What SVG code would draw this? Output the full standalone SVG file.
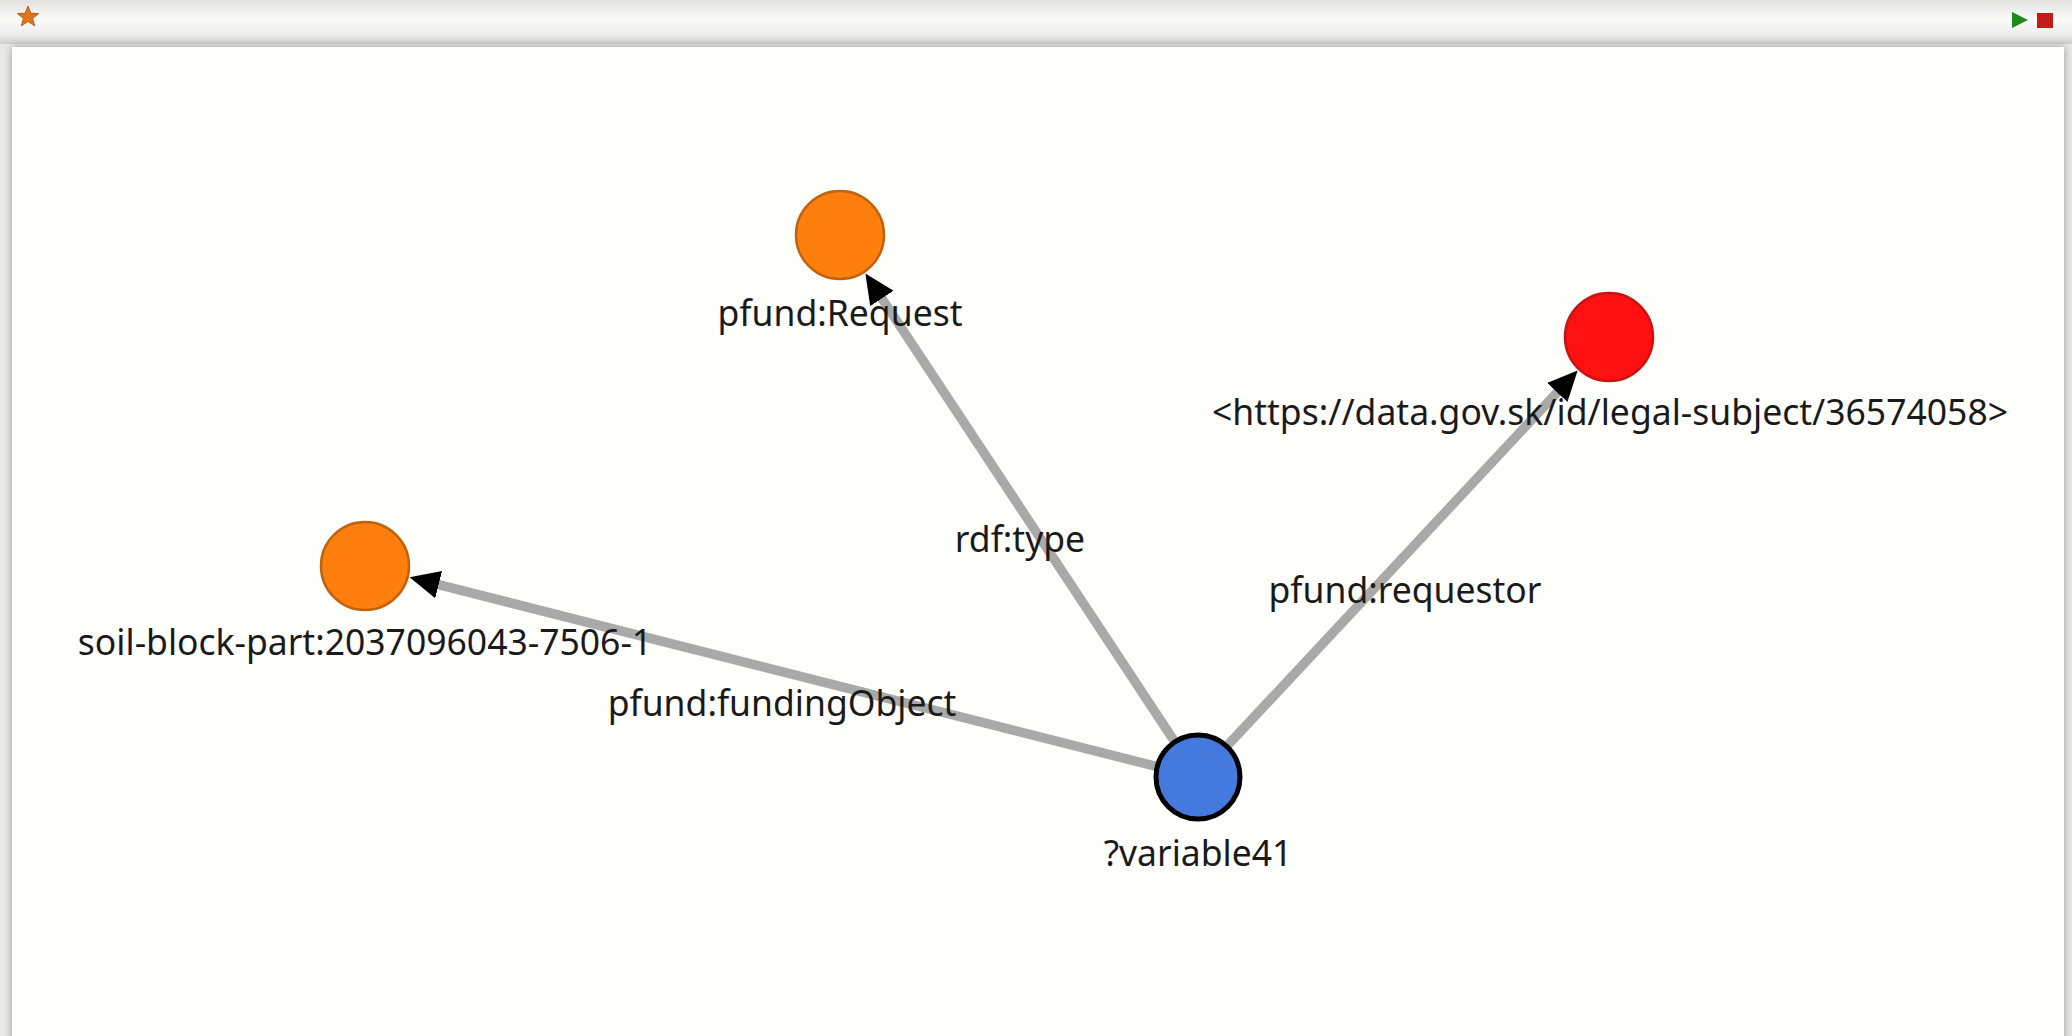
<svg xmlns="http://www.w3.org/2000/svg" width="2072" height="1036" viewBox="0 0 2072 1036">
  <style>
    .lbl { font-family: "Noto Sans", "Open Sans", "DejaVu Sans", sans-serif; font-size: 35.5px; fill: #1a1a1a; text-anchor: middle; }
    .edge { stroke: #a9a9a9; stroke-width: 9.5; fill: none; marker-end: url(#arrow); }
    .orange { fill: #ff7f0e; stroke: #c2620c; stroke-width: 2.5; }
    .red { fill: #ff1111; stroke: #c81414; stroke-width: 2.5; }
    .blue { fill: #4479dd; stroke: #000000; stroke-width: 5; }
  </style>
  <defs>
    <linearGradient id="bar" x1="0" y1="0" x2="0" y2="1">
      <stop offset="0" stop-color="#e2e2e0"/>
      <stop offset="0.45" stop-color="#fbfbfa"/>
      <stop offset="0.8" stop-color="#ececea"/>
      <stop offset="1" stop-color="#cfcfcd"/>
    </linearGradient>
    <filter id="shadow" x="-5%" y="-5%" width="110%" height="110%">
      <feDropShadow dx="0" dy="0" stdDeviation="4" flood-color="#000" flood-opacity="0.35"/>
    </filter>
    <marker id="arrow" markerUnits="userSpaceOnUse" markerWidth="32" markerHeight="30" refX="4" refY="14" orient="auto" viewBox="0 0 32 30">
      <path d="M0,0 L30,14 L0,28 z" fill="#000"/>
    </marker>
  </defs>

  <!-- chrome -->
  <rect x="0" y="0" width="2072" height="1036" fill="#e9e9e7"/>
  <rect x="0" y="0" width="2072" height="44" fill="url(#bar)"/>
  <polygon points="28,6 30.9,13.3 38.5,13.6 32.6,18.4 34.7,25.8 28,21.5 21.3,25.8 23.4,18.4 17.5,13.6 25.1,13.3" fill="#e0761c" stroke="#b85e14" stroke-width="1"/>
  <polygon points="2012,12 2028,20 2012,28" fill="#1e8a1e"/>
  <rect x="2037" y="13" width="16" height="15" fill="#c41a1a"/>
  <rect x="12" y="47" width="2052" height="1010" fill="#fefefb" filter="url(#shadow)"/>

  <!-- connectors -->
  <g id="connectors">
    <line class="edge" x1="1198" y1="777" x2="879.7" y2="295.1"/>
    <line class="edge" x1="1198" y1="777" x2="1559.9" y2="389.6"/>
    <line class="edge" x1="1198" y1="777" x2="434.8" y2="583.7"/>
    <text class="lbl" x="1020" y="552">rdf:type</text>
    <text class="lbl" x="1405" y="603">pfund:requestor</text>
    <text class="lbl" x="782" y="716">pfund:fundingObject</text>
  </g>

  <g id="node-request">
    <circle class="orange" cx="840" cy="235" r="44"/>
    <text class="lbl" x="840" y="326">pfund:Request</text>
  </g>
  <g id="node-legal-subject">
    <circle class="red" cx="1609" cy="337" r="44"/>
    <text class="lbl" x="1610" y="425">&lt;https://data.gov.sk/id/legal-subject/36574058&gt;</text>
  </g>
  <g id="node-soil">
    <circle class="orange" cx="365" cy="566" r="44"/>
    <text class="lbl" x="365" y="655">soil-block-part:2037096043-7506-1</text>
  </g>
  <g id="node-variable41">
    <circle class="blue" cx="1198" cy="777" r="42"/>
    <text class="lbl" x="1198" y="866">?variable41</text>
  </g>
</svg>
